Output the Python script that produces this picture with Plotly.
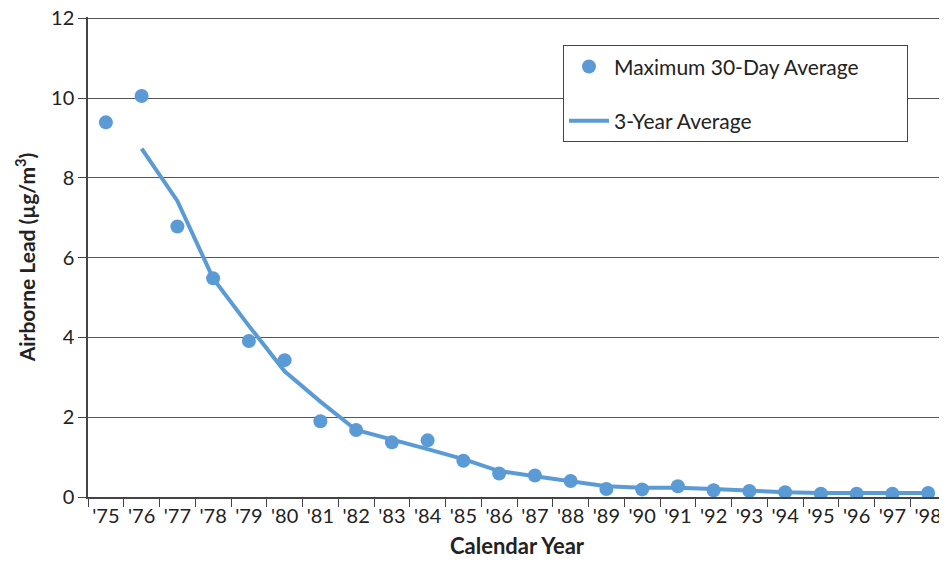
import plotly.graph_objects as go

years = ["'75", "'76", "'77", "'78", "'79", "'80", "'81", "'82", "'83", "'84", "'85", "'86",
         "'87", "'88", "'89", "'90", "'91", "'92", "'93", "'94", "'95", "'96", "'97", "'98"]
max_30day = [9.39, 10.05, 6.78, 5.48, 3.91, 3.43, 1.90, 1.68, 1.37, 1.42, 0.91, 0.59,
             0.54, 0.40, 0.20, 0.19, 0.27, 0.17, 0.15, 0.12, 0.08, 0.08, 0.08, 0.10]
avg_years = years[1:]
avg_3yr = [8.73, 7.42, 5.48, 4.29, 3.15, 2.39, 1.68, 1.45, 1.20, 0.95, 0.65, 0.52,
           0.40, 0.27, 0.23, 0.23, 0.20, 0.15, 0.12, 0.10, 0.10, 0.10, 0.10]
y_ticks = [0, 2, 4, 6, 8, 10, 12]

blue = "#5B9BD5"
font_family = "Lato, 'Open Sans', sans-serif"

fig = go.Figure()
fig.add_trace(go.Scatter(x=years, y=max_30day, mode="markers",
                         name="Maximum 30-Day Average" + "\u00a0" * 8,
                         marker=dict(color=blue, size=14), legendgroup="a"))
fig.add_trace(go.Scatter(x=avg_years, y=avg_3yr, mode="lines", name="3-Year Average",
                         line=dict(color=blue, width=4), legendgroup="b"))

# page body has an 8px default margin, so the figure is shrunk and margins reduced by 8px
fig.update_layout(
    width=939, height=557,
    margin=dict(l=80, r=1, t=9, b=68),
    paper_bgcolor="white", plot_bgcolor="white",
    font=dict(family=font_family, size=20, color="#222222"),
    legend=dict(x=0.5536, y=0.9408, xanchor="left", yanchor="top",
                bordercolor="#444444", borderwidth=1, bgcolor="white",
                font=dict(size=21), tracegroupgap=24, itemwidth=40),
    xaxis=dict(type="category", tickson="boundaries", ticks="outside", ticklen=8,
               tickcolor="#444444", showgrid=False, showline=True, linecolor="#444444",
               linewidth=1.5, automargin=False, tickangle=0, ticklabeloverflow="allow",
               title=dict(text="<b>Calendar Year</b>", font=dict(size=22), standoff=13),
               tickfont=dict(size=20), range=[-0.5, 23.5]),
    yaxis=dict(range=[0, 12.03], tickvals=y_ticks, ticks="outside", ticklen=8, tickcolor="#444444",
               showgrid=True, gridcolor="#555555", gridwidth=1.2, showline=True,
               linecolor="#444444", linewidth=1.5, zeroline=False, automargin=False,
               ticklabeloverflow="allow",
               title=dict(text="<b>Airborne Lead (µg/m<sup>3</sup>)</b>", font=dict(size=21), standoff=10),
               tickfont=dict(size=20)),
)
fig.write_html("out.html")
